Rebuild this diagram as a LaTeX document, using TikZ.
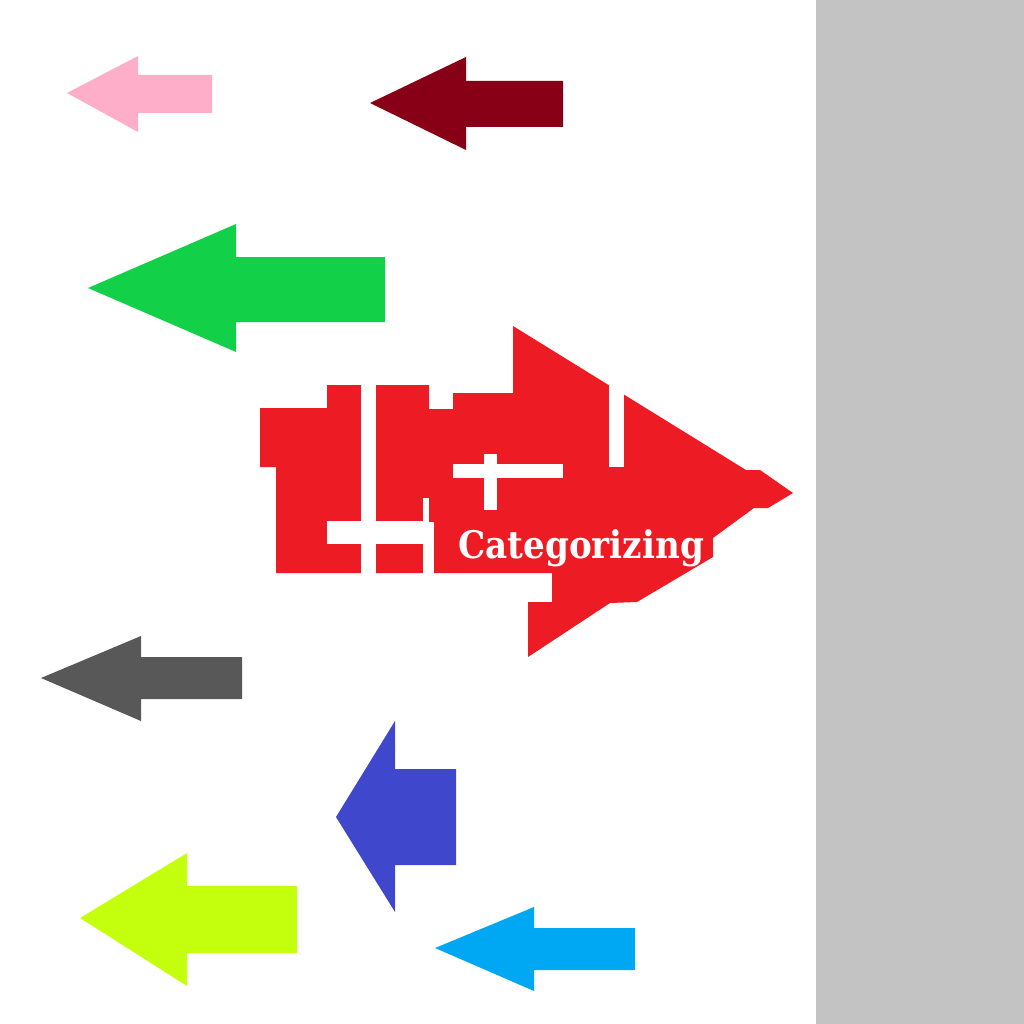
\documentclass[tikz,border=0pt]{standalone}
\usepackage{fontspec}
\newfontfamily\catfont{DejaVu Serif}
\definecolor{cpink}{HTML}{FFAEC9}
\definecolor{cmaroon}{HTML}{880015}
\definecolor{cgreen}{HTML}{12D148}
\definecolor{cgray}{HTML}{585858}
\definecolor{cblue}{HTML}{3F48CC}
\definecolor{clime}{HTML}{C4FF0E}
\definecolor{ccyan}{HTML}{00A8F3}
\definecolor{cred}{HTML}{ED1C24}
\definecolor{cpanel}{HTML}{C3C3C3}
\tikzset{
  shape fill/.style={fill=#1, draw=none},
  cut/.style={fill=white, draw=none},
}
% left-pointing arrow: color, tipx, tipy, headx, headtop, headbot, tailtop, tailbot, rightx
\newcommand\myleftarrow[9]{%
  \fill[shape fill=#1] (#2,#3) -- (#4,#5) -- (#4,#7) -- (#9,#7) -- (#9,#8) -- (#4,#8) -- (#4,#6) -- cycle;}
\begin{document}
\begin{tikzpicture}[x=1pt,y=-1pt]
\useasboundingbox (0,0) rectangle (1024,1024);
\fill[white] (0,0) rectangle (1024,1024);
\fill[cpanel] (816,0) rectangle (1024,1024);
% small arrows
\myleftarrow{cpink}{67}{93}{138}{56}{132}{75}{113}{212}
\myleftarrow{cmaroon}{370}{103}{466}{57}{150}{81}{127}{563}
\myleftarrow{cgreen}{88}{288}{236}{224}{352}{257}{322}{385}
\myleftarrow{cgray}{41}{678}{141}{636}{721}{657}{699}{242}
\myleftarrow{cblue}{336}{817}{395}{721}{912}{769}{865}{456}
\myleftarrow{clime}{80}{918}{187}{853}{986}{886}{953}{297}
\myleftarrow{ccyan}{435}{948}{534}{907}{991}{928}{970}{635}
% big red arrow
\fill[shape fill=cred] (260,408) -- (327,408) -- (327,385) -- (429,385) -- (429,409)
  -- (453,409) -- (453,393) -- (513,393) -- (513,326) -- (746,470) -- (760,470)
  -- (793,493) -- (768,508) -- (754,508) -- (713,538) -- (713,557) -- (637,602)
  -- (610,603) -- (528,657) -- (528,602) -- (552,602) -- (552,573) -- (276,573)
  -- (276,467) -- (260,467) -- cycle;
% white cuts
\fill[cut] (361,383) rectangle (376,576);
\fill[cut] (609,380) rectangle (624,467);
\fill[cut] (327,521) rectangle (423,544);
\fill[cut] (423,498) rectangle (429,576);
\fill[cut] (423,522) rectangle (434,576);
\fill[cut] (453,464) rectangle (563,478);
\fill[cut] (484,454) rectangle (497,510);
\node[anchor=base west, inner sep=0pt, text=white, font=\catfont\bfseries\fontsize{38}{38}\selectfont] (label) at (458,558) {\scalebox{0.9}[1]{Categorizing}};
\end{tikzpicture}
\end{document}
